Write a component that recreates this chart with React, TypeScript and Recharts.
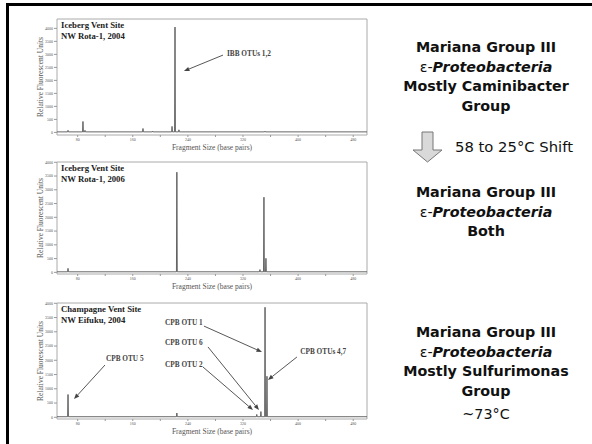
import React from 'react';
import { LineChart, Line, XAxis, YAxis, ReferenceArea, ReferenceLine, ReferenceDot } from 'recharts';

// ---- data ----
const xTicks = [80, 120, 160, 200, 240, 280, 320, 360, 400, 440, 480];
const yTicks = [0, 500, 1000, 1500, 2000, 2500, 3000, 3500, 4000];

// Panel 1: Iceberg Vent Site, NW Rota-1, 2004
const p1Sizes = [66, 87.7, 90.6, 174.8, 189, 217, 221.3, 227, 352];
const p1Heights = [80, 420, 80, 150, 50, 230, 4050, 100, 50];
// Panel 2: Iceberg Vent Site, NW Rota-1, 2006
const p2Sizes = [66, 224, 344.6, 350.4, 353.3];
const p2Heights = [145, 3640, 100, 2730, 510];
// Panel 3: Champagne Vent Site, NW Eifuku, 2004
const p3Sizes = [66, 224, 340, 346, 352, 354.8];
const p3Heights = [800, 150, 100, 200, 3860, 1440];

// annotations: label, text x/y (data), anchor, arrow from, arrow to
const p1Notes = ['IBB OTUs 1,2'];
const p1NoteX = [296.7];
const p1NoteY = [3050];
const p1NoteAnchor = ['start'];
const p1ArrowFrom = [[291, 2973]];
const p1ArrowTo = [[234.3, 2358]];

const p3Notes = ['CPB OTU 5', 'CPB OTU 1', 'CPB OTU 6', 'CPB OTU 2', 'CPB OTUs 4,7'];
const p3NoteX = [121, 261.5, 261.5, 261.5, 403];
const p3NoteY = [2080, 3309, 2607, 1835, 2291];
const p3NoteAnchor = ['start', 'end', 'end', 'end', 'start'];
const p3ArrowFrom = [[119.7, 1835], [263.3, 3200], [269.2, 2467], [261.9, 1765], [398.3, 2116]];
const p3ArrowTo = [[74.7, 642], [347.5, 2291], [343.2, 256], [334.5, 256], [356.2, 1309]];

const BASE = 20;

function buildTrace(sizes: number[], heights: number[]) {
  const rows: { bp: number; v: number }[] = [{ bp: 50, v: BASE }];
  sizes.forEach((s, i) => {
    rows.push({ bp: s - 0.6, v: BASE });
    rows.push({ bp: s, v: heights[i] });
    rows.push({ bp: s + 0.6, v: BASE });
  });
  rows.push({ bp: 500, v: BASE });
  return rows;
}

const serif = '"Liberation Serif", "DejaVu Serif", serif';
const rightFont = '"DejaVu Sans", sans-serif';

const ArrowShape = (props: any) => {
  const { x1, y1, x2, y2 } = props;
  const ang = Math.atan2(y2 - y1, x2 - x1);
  const L = 5.5;
  const W = 2.2;
  const bx = x2 - L * Math.cos(ang);
  const by = y2 - L * Math.sin(ang);
  const px = -Math.sin(ang) * W;
  const py = Math.cos(ang) * W;
  return (
    <g>
      <line x1={x1} y1={y1} x2={bx} y2={by} stroke="#444" strokeWidth={0.9} />
      <polygon points={`${x2},${y2} ${bx + px},${by + py} ${bx - px},${by - py}`} fill="#444" />
    </g>
  );
};

type PanelProps = {
  top: number;
  marginTop: number;
  domain: [number, number];
  sizes: number[];
  heights: number[];
  notes: string[];
  noteX: number[];
  noteY: number[];
  noteAnchor: string[];
  arrowFrom: number[][];
  arrowTo: number[][];
  title: string[];
};

function Panel(p: PanelProps) {
  const data = buildTrace(p.sizes, p.heights);
  return (
    <div style={{ position: 'absolute', left: 0, top: p.top }}>
      <LineChart width={380} height={155} data={data} margin={{ top: p.marginTop, right: 13, bottom: 0, left: 0 }}>
        <XAxis
          dataKey="bp"
          type="number"
          domain={[50, 500]}
          ticks={xTicks}
          interval={0}
          allowDataOverflow
          axisLine={false}
          tickLine={{ stroke: '#999' }}
          tickSize={2}
          tickMargin={1}
          height={20}
          tick={{ fontSize: 4, fill: '#555', fontFamily: serif }}
          tickFormatter={(v: number) => (v % 80 === 0 ? String(v) : '')}
          label={{
            content: (lp: any) => (
              <text
                x={lp.viewBox.x + lp.viewBox.width / 2}
                y={147.5}
                textAnchor="middle"
                dominantBaseline="central"
                fontSize={7.5}
                fill="#555"
                fontFamily={serif}
              >
                Fragment Size (base pairs)
              </text>
            ),
          }}
        />
        <YAxis
          type="number"
          domain={p.domain}
          ticks={yTicks}
          interval={0}
          allowDataOverflow
          axisLine={false}
          tickLine={{ stroke: '#999' }}
          tickSize={3}
          tickMargin={1}
          width={57}
          tick={{ fontSize: 4, fill: '#555', fontFamily: serif }}
          label={{
            content: (lp: any) => {
              const cy = lp.viewBox.y + lp.viewBox.height / 2;
              return (
                <text
                  x={40}
                  y={cy}
                  transform={`rotate(-90 40 ${cy})`}
                  textAnchor="middle"
                  dominantBaseline="central"
                  fontSize={7.5}
                  fill="#555"
                  fontFamily={serif}
                >
                  Relative Fluorescent Units
                </text>
              );
            },
          }}
        />
        <ReferenceArea x1={50} x2={500} y1={p.domain[0]} y2={p.domain[1]} fill="none" stroke="#aaa" strokeWidth={1} ifOverflow="visible" />
        <Line dataKey="v" type="linear" dot={false} stroke="#555" strokeWidth={0.9} isAnimationActive={false} />
        {p.arrowFrom.map((f, i) => (
          <ReferenceLine
            key={'a' + i}
            segment={[{ x: f[0], y: f[1] }, { x: p.arrowTo[i][0], y: p.arrowTo[i][1] }]}
            shape={ArrowShape}
            ifOverflow="visible"
          />
        ))}
        {p.notes.map((n, i) => (
          <ReferenceDot
            key={'n' + i}
            x={p.noteX[i]}
            y={p.noteY[i]}
            ifOverflow="visible"
            shape={(sp: any) => (
              <text
                x={sp.cx}
                y={sp.cy}
                textAnchor={p.noteAnchor[i] as any}
                dominantBaseline="central"
                fontSize={7.3}
                fontWeight="bold"
                fill="#444"
                fontFamily={serif}
              >
                {n}
              </text>
            )}
          />
        ))}
      </LineChart>
      <div
        style={{
          position: 'absolute',
          left: 61,
          top: p.marginTop + 1,
          fontFamily: serif,
          fontWeight: 'bold',
          fontSize: 8.7,
          lineHeight: '10.5px',
          color: '#222',
          whiteSpace: 'nowrap',
        }}
      >
        {p.title.map((t) => (
          <div key={t}>{t}</div>
        ))}
      </div>
    </div>
  );
}

const Eps = () => (
  <div>
    <span style={{ fontWeight: 'normal' }}>ε-</span>
    <span style={{ fontStyle: 'italic' }}>Proteobacteria</span>
  </div>
);

export default function App() {
  const blockStyle: React.CSSProperties = {
    position: 'absolute',
    left: 386,
    width: 200,
    textAlign: 'center',
    fontFamily: rightFont,
    fontWeight: 'bold',
    fontSize: 14.3,
    lineHeight: '19.6px',
    color: '#111',
    whiteSpace: 'nowrap',
  };
  return (
    <div style={{ position: 'absolute', left: 0, top: 0, width: 592, height: 444, background: '#fff', overflow: 'hidden' }}>
      {/* slide frame */}
      <div style={{ position: 'absolute', left: 6, top: 3, width: 586, height: 3, background: '#000' }} />
      <div style={{ position: 'absolute', left: 6, top: 3, width: 3, height: 441, background: '#000' }} />

      <Panel
        top={0}
        marginTop={19}
        domain={[-100, 4360]}
        sizes={p1Sizes}
        heights={p1Heights}
        notes={p1Notes}
        noteX={p1NoteX}
        noteY={p1NoteY}
        noteAnchor={p1NoteAnchor}
        arrowFrom={p1ArrowFrom}
        arrowTo={p1ArrowTo}
        title={['Iceberg Vent Site', 'NW Rota-1, 2004']}
      />
      <Panel
        top={139}
        marginTop={23}
        domain={[-60, 4010]}
        sizes={p2Sizes}
        heights={p2Heights}
        notes={[]}
        noteX={[]}
        noteY={[]}
        noteAnchor={[]}
        arrowFrom={[]}
        arrowTo={[]}
        title={['Iceberg Vent Site', 'NW Rota-1, 2006']}
      />
      <Panel
        top={284}
        marginTop={19}
        domain={[-60, 4010]}
        sizes={p3Sizes}
        heights={p3Heights}
        notes={p3Notes}
        noteX={p3NoteX}
        noteY={p3NoteY}
        noteAnchor={p3NoteAnchor}
        arrowFrom={p3ArrowFrom}
        arrowTo={p3ArrowTo}
        title={['Champagne Vent Site', 'NW Eifuku, 2004']}
      />

      <div style={{ ...blockStyle, top: 38 }}>
        <div>Mariana Group III</div>
        <Eps />
        <div>Mostly Caminibacter</div>
        <div>Group</div>
      </div>

      <svg style={{ position: 'absolute', left: 412, top: 130 }} width={34} height={36}>
        <polygon points="10,2 21,2 21,20 30,20 15.5,32 1,20 10,20" fill="#d9d9d9" stroke="#777" strokeWidth={1} />
      </svg>
      <div
        style={{
          position: 'absolute',
          left: 455,
          top: 137,
          fontFamily: rightFont,
          fontSize: 14.8,
          lineHeight: '20px',
          color: '#111',
          whiteSpace: 'nowrap',
        }}
      >
        58 to 25°C Shift
      </div>

      <div style={{ ...blockStyle, top: 183 }}>
        <div>Mariana Group III</div>
        <Eps />
        <div>Both</div>
      </div>

      <div style={{ ...blockStyle, top: 323 }}>
        <div>Mariana Group III</div>
        <Eps />
        <div>Mostly Sulfurimonas</div>
        <div>Group</div>
      </div>
      <div style={{ ...blockStyle, top: 405, fontWeight: 'normal' }}>~73°C</div>
    </div>
  );
}
